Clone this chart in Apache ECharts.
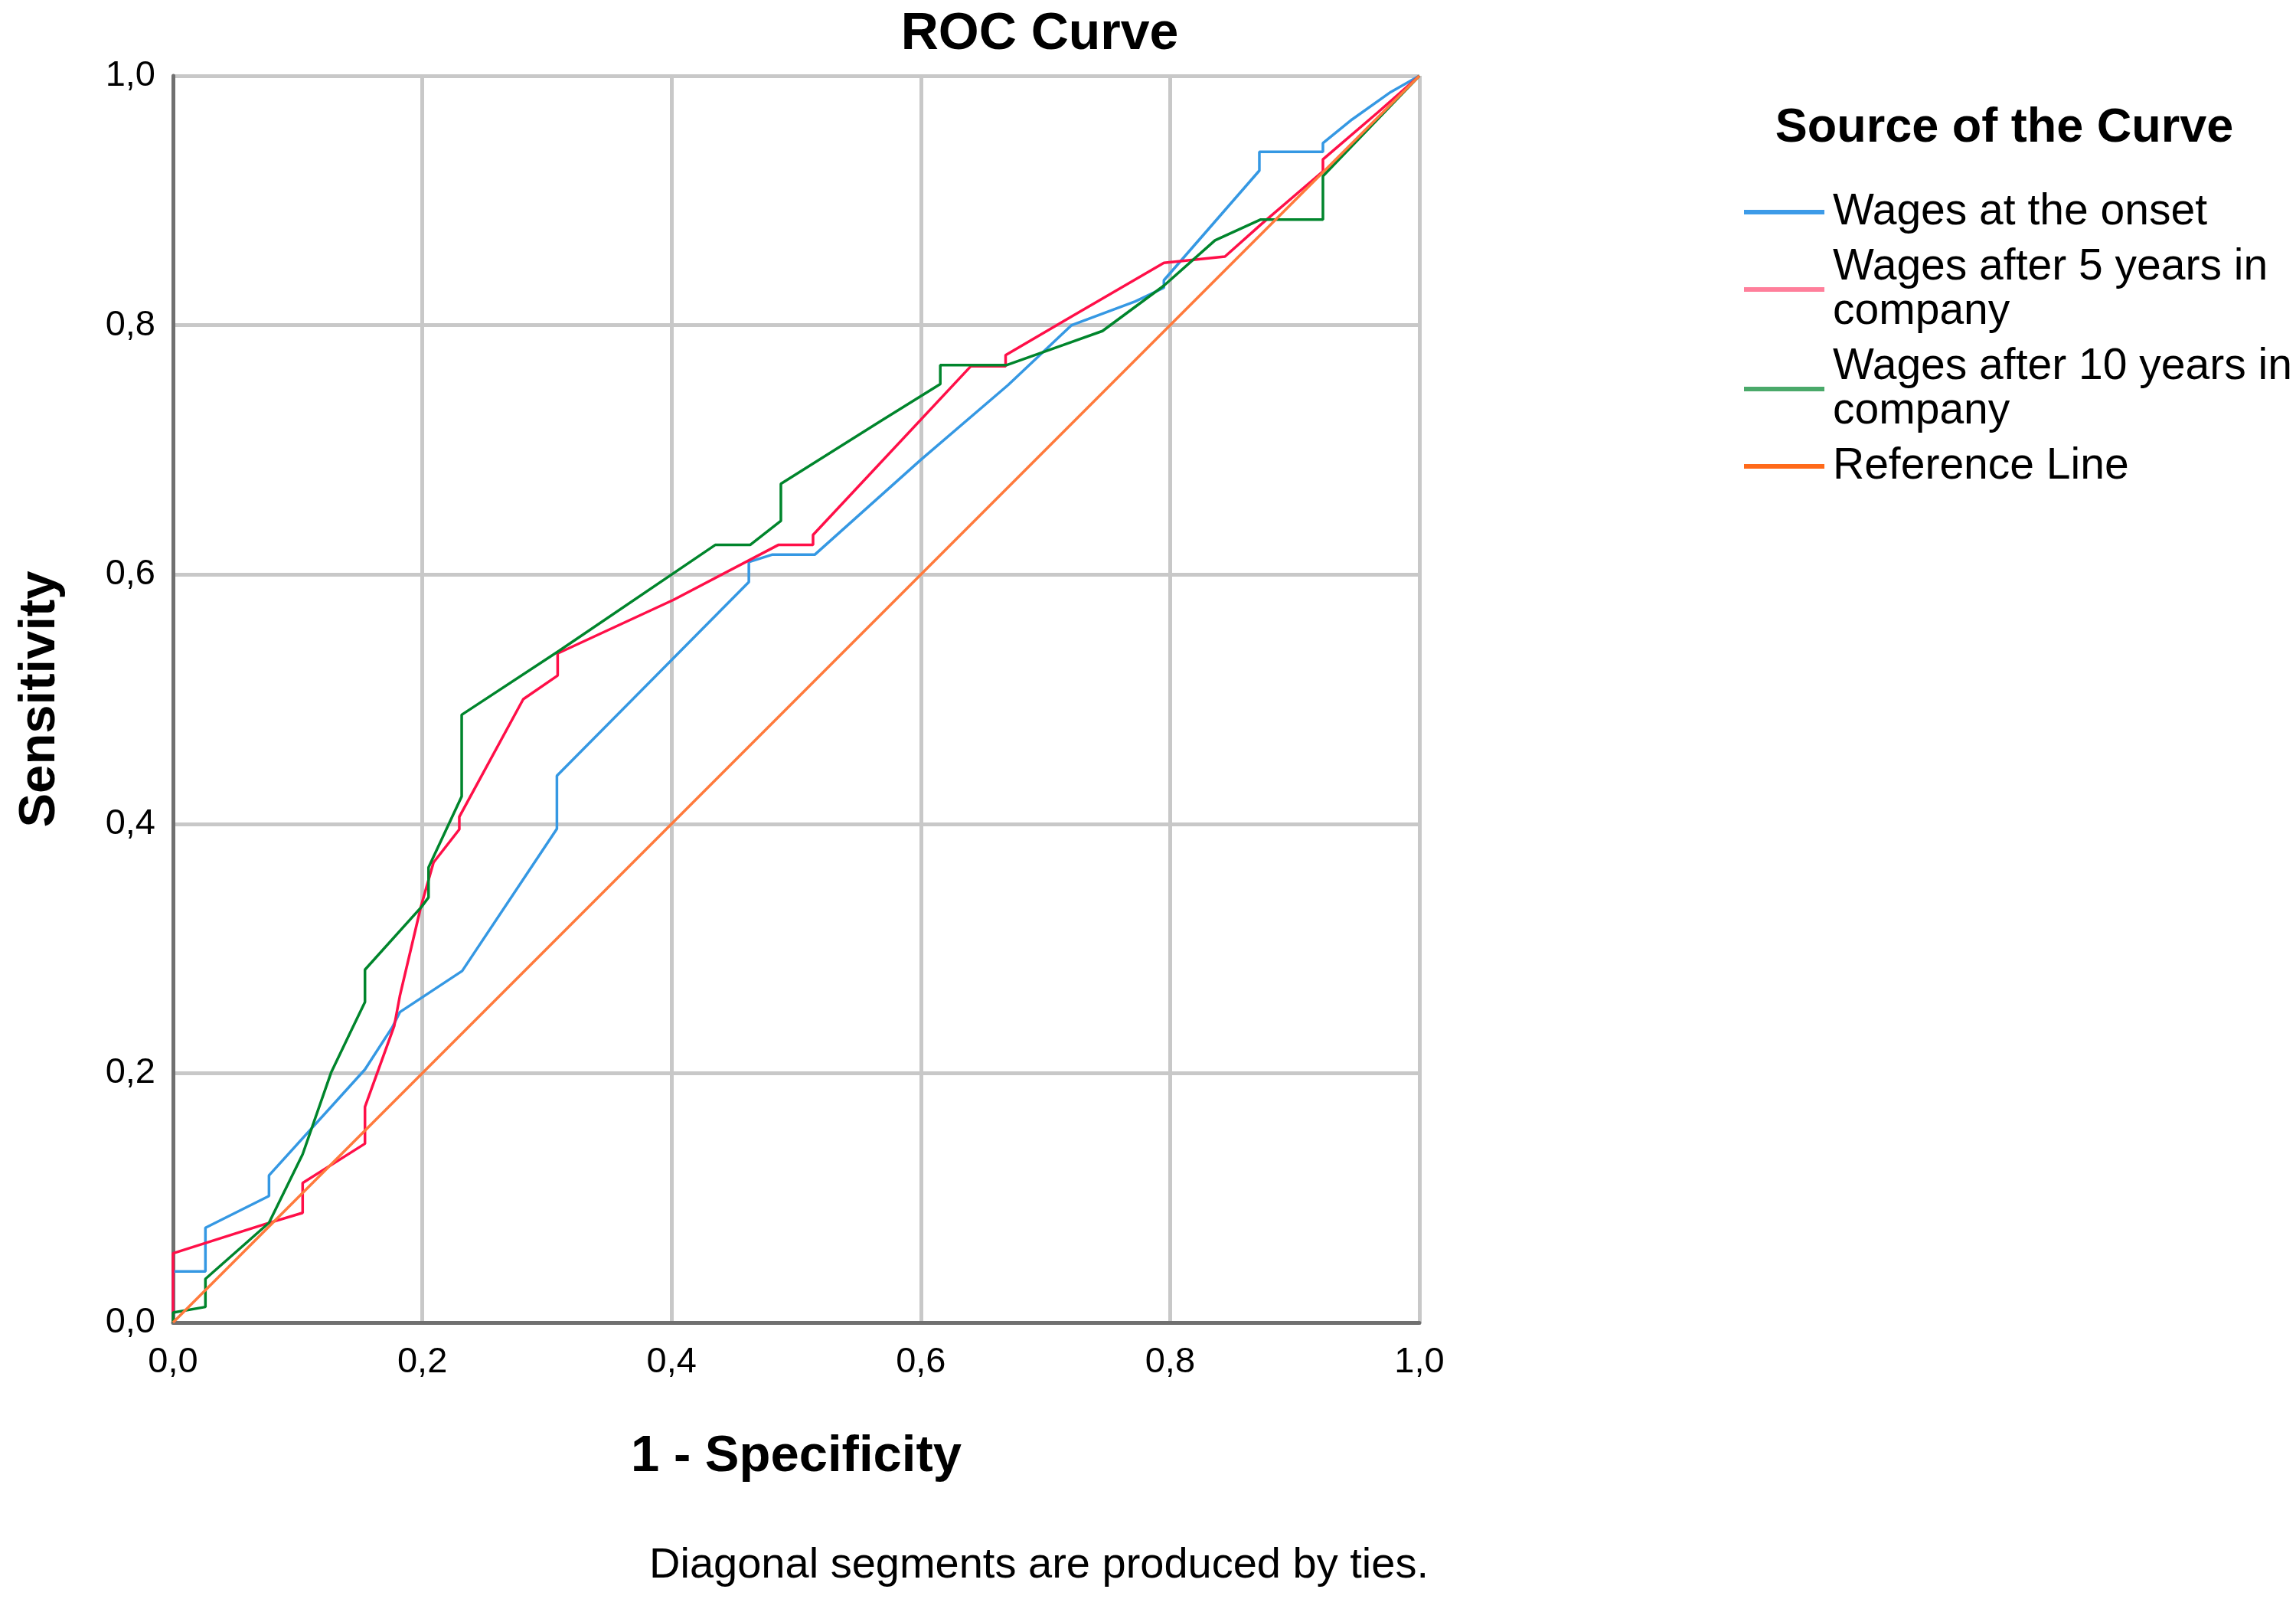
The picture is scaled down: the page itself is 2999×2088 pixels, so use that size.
<!DOCTYPE html>
<html>
<head>
<meta charset="utf-8">
<script src="https://cdn.jsdelivr.net/npm/echarts@6/dist/echarts.min.js"></script>
<style>
html,body{margin:0;padding:0;background:#fff;}
#chart{width:2999px;height:2088px;}
</style>
</head>
<body>
<div id="chart"></div>
<script>
// Axis ticks
var tickValues = [0, 0.2, 0.4, 0.6, 0.8, 1.0];

// Series names
var seriesNames = ['Wages at the onset', 'Wages after 5 years in\ncompany', 'Wages after 10 years in\ncompany', 'Reference Line'];

// Wages at the onset (1 - specificity, sensitivity)
var onsetX = [0, 0, 0.026, 0.026, 0.077, 0.077, 0.154, 0.176, 0.182, 0.232, 0.308, 0.308, 0.462, 0.462, 0.481, 0.515, 0.600, 0.670, 0.721, 0.772, 0.795, 0.795, 0.8716, 0.8716, 0.9226, 0.9226, 0.946, 0.977, 1];
var onsetY = [0, 0.041, 0.041, 0.076, 0.1015, 0.118, 0.203, 0.237, 0.249, 0.282, 0.396, 0.4386, 0.594, 0.610, 0.616, 0.616, 0.692, 0.752, 0.800, 0.819, 0.830, 0.836, 0.924, 0.939, 0.939, 0.946, 0.965, 0.987, 1];

// Wages after 5 years in company
var fiveX = [0, 0, 0.074, 0.104, 0.104, 0.154, 0.154, 0.1775, 0.182, 0.199, 0.209, 0.2297, 0.2297, 0.281, 0.3086, 0.3086, 0.4016, 0.4856, 0.5135, 0.5135, 0.640, 0.668, 0.668, 0.721, 0.795, 0.844, 0.8727, 0.9226, 0.9226, 0.967, 1];
var fiveY = [0, 0.0555, 0.079, 0.088, 0.112, 0.1435, 0.173, 0.238, 0.262, 0.334, 0.369, 0.3956, 0.4056, 0.500, 0.519, 0.5367, 0.5797, 0.6237, 0.6237, 0.6318, 0.767, 0.767, 0.776, 0.807, 0.850, 0.855, 0.8806, 0.9234, 0.933, 0.971, 1];

// Wages after 10 years in company
var tenX = [0, 0, 0.026, 0.026, 0.077, 0.104, 0.127, 0.1417, 0.154, 0.154, 0.199, 0.205, 0.205, 0.2316, 0.2316, 0.3096, 0.435, 0.463, 0.4877, 0.4877, 0.5676, 0.6156, 0.6156, 0.669, 0.714, 0.7457, 0.795, 0.836, 0.8727, 0.9226, 0.9226, 1];
var tenY = [0, 0.008, 0.0125, 0.035, 0.080, 0.135, 0.2009, 0.2316, 0.257, 0.283, 0.333, 0.341, 0.365, 0.422, 0.4875, 0.5387, 0.6237, 0.6237, 0.643, 0.6728, 0.723, 0.7527, 0.768, 0.768, 0.784, 0.7953, 0.8317, 0.868, 0.8847, 0.8847, 0.9195, 1];

// Reference line
var refX = [0, 1];
var refY = [0, 1];

var colors = ['#3598e3', '#ff0f48', '#00852c', '#ff7a3c'];
var legendColors = ['#3d9be8', '#ff7f9b', '#4aa96a', '#ff6a1a'];

function pairs(xs, ys) {
  var out = [];
  for (var i = 0; i < xs.length; i++) out.push([xs[i], ys[i]]);
  return out;
}
function fmt(v) { return v.toFixed(1).replace('.', ','); }

var FONT = "'Liberation Sans', Arial, sans-serif";
var chart = echarts.init(document.getElementById('chart'));

var allData = [pairs(onsetX, onsetY), pairs(fiveX, fiveY), pairs(tenX, tenY), pairs(refX, refY)];

var series = allData.map(function (d, i) {
  return {
    name: seriesNames[i],
    type: 'line',
    data: d,
    showSymbol: false,
    symbol: 'none',
    smooth: false,
    animation: false,
    lineStyle: { color: colors[i], width: 3.5 },
    itemStyle: { color: colors[i] }
  };
});

chart.setOption({
  animation: false,
  backgroundColor: '#ffffff',
  title: [
    { text: 'ROC Curve', left: 1353, top: 6, textAlign: 'center',
      textStyle: { fontFamily: FONT, fontSize: 68, fontWeight: 'bold', color: '#000' } },
    { text: 'Source of the Curve', left: 2613, top: 131, textAlign: 'center',
      textStyle: { fontFamily: FONT, fontSize: 63, fontWeight: 'bold', color: '#000' } },
    { text: 'Diagonal segments are produced by ties.', left: 1352, top: 2012, textAlign: 'center',
      textStyle: { fontFamily: FONT, fontSize: 56, fontWeight: 'normal', color: '#000' } }
  ],
  legend: {
    orient: 'vertical',
    left: 2273,
    top: 243,
    itemWidth: 105,
    itemHeight: 6,
    itemGap: 14,
    icon: 'rect',
    data: seriesNames.map(function (n, i) {
      return { name: n, itemStyle: { color: legendColors[i] } };
    }),
    textStyle: { fontFamily: FONT, fontSize: 57, lineHeight: 58, color: '#000', padding: [0, 0, 0, 6] }
  },
  grid: { left: 226, right: 1145, top: 99, bottom: 361, containLabel: false },
  xAxis: {
    type: 'value', min: 0, max: 1, interval: 0.2,
    name: '1 - Specificity', nameLocation: 'middle', nameGap: 142,
    nameTextStyle: { fontFamily: FONT, fontSize: 67, fontWeight: 'bold', color: '#000' },
    axisLine: { show: true, lineStyle: { color: '#707070', width: 5 } },
    axisTick: { show: false },
    axisLabel: { formatter: fmt, fontFamily: FONT, fontSize: 47, color: '#000', margin: 29 },
    splitLine: { show: true, lineStyle: { color: '#c8c8c8', width: 5 } }
  },
  yAxis: {
    type: 'value', min: 0, max: 1, interval: 0.2,
    name: 'Sensitivity', nameLocation: 'middle', nameGap: 140,
    nameTextStyle: { fontFamily: FONT, fontSize: 67, fontWeight: 'bold', color: '#000' },
    axisLine: { show: true, lineStyle: { color: '#707070', width: 5 } },
    axisTick: { show: false },
    axisLabel: { formatter: fmt, fontFamily: FONT, fontSize: 47, color: '#000', margin: 23 },
    splitLine: { show: true, lineStyle: { color: '#c8c8c8', width: 5 } }
  },
  series: series
});
</script>
</body>
</html>
